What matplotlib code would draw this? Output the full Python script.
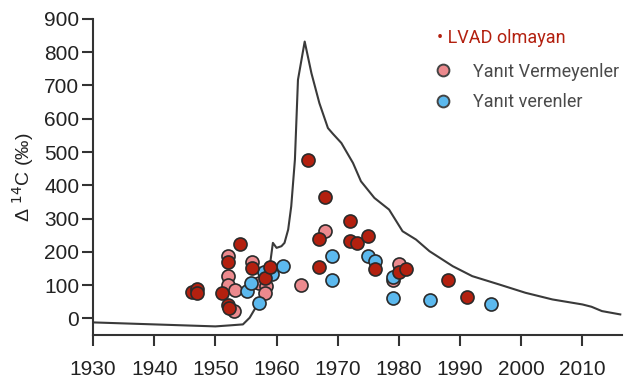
import matplotlib

matplotlib.use("Agg")
import matplotlib.pyplot as plt
from matplotlib.lines import Line2D

# atmospheric bomb-curve
curve_years = [1930, 1940, 1950, 1952.3, 1954.5, 1955.6, 1956.4, 1957.2, 1958.6,
               1959.4, 1960.0, 1960.8, 1961.3, 1961.9, 1962.4, 1963.0, 1963.5,
               1964.6, 1965.7, 1967.0, 1968.4, 1969.2, 1970.6, 1972.5, 1973.8,
               1976.0, 1978.4, 1980.6, 1982.8, 1985.0, 1988.8, 1992.0, 1996.4,
               2000.7, 2005.1, 2010.0, 2011.5, 2013.2, 2016.2]
curve_values = [-12, -18, -24, -21, -18, 2, 27, 57, 117,
                227, 212, 217, 227, 267, 337, 477, 717,
                832, 737, 647, 572, 555, 527, 467, 412,
                362, 327, 262, 237, 202, 157, 127, 102,
                77, 57, 42, 35, 22, 12]

# LVAD olmayan (dark red)
red_years = [1946.2, 1947.0, 1947.0, 1951.0, 1952.1, 1952.1, 1952.2, 1954.0,
             1956.0, 1958.1, 1959.0, 1965.1, 1968.0, 1967.0, 1967.0, 1972.0,
             1972.0, 1973.1, 1975.0, 1976.1, 1980.0, 1981.1, 1988.1, 1991.1]
red_values = [80, 88, 76, 75, 170, 40, 31, 225,
              152, 122, 155, 475, 365, 240, 155, 294,
              234, 227, 247, 147, 139, 147, 115, 65]

# Yanit Vermeyenler (pink)
pink_years = [1952.1, 1952.1, 1952.1, 1953.2, 1953.0, 1956.0, 1957.1, 1958.2,
              1958.1, 1964.0, 1968.0, 1980.1, 1979.1]
pink_values = [187, 127, 100, 84, 22, 170, 105, 97,
               77, 100, 262, 165, 115]

# Yanit verenler (blue)
blue_years = [1955.1, 1955.9, 1957.1, 1957.9, 1959.3, 1961.0, 1969.0, 1969.0,
              1975.0, 1976.1, 1979.1, 1979.1, 1985.1, 1995.1]
blue_values = [82, 105, 47, 140, 132, 157, 189, 114,
               187, 172, 125, 62, 54, 44]

RED = "#b3200f"
PINK = "#ec8a8e"
BLUE = "#5cb9ee"
EDGE = "#2a2a2a"
AXIS = "#333333"

plt.rcParams["font.family"] = ["Liberation Sans", "DejaVu Sans"]

fig = plt.figure(figsize=(6.42, 3.86), dpi=100)
ax = fig.add_axes([0.145, 0.132, 0.824, 0.819])

ax.plot(curve_years, curve_values, color="#3a3a3a", lw=1.5, zorder=2)

marker_kw = dict(s=88, edgecolors=EDGE, linewidths=1.2, zorder=3)
ax.scatter(pink_years, pink_values, color=PINK, **marker_kw)
ax.scatter(blue_years, blue_values, color=BLUE, **marker_kw)
ax.scatter(red_years, red_values, color=RED, **marker_kw)

ax.set_xlim(1930, 2016.5)
ax.set_ylim(-50, 900)
ax.set_xticks(range(1930, 2011, 10))
ax.set_yticks(range(0, 901, 100))

for side in ("top", "right"):
    ax.spines[side].set_visible(False)
for side in ("left", "bottom"):
    ax.spines[side].set_color(AXIS)
    ax.spines[side].set_linewidth(1.5)
ax.tick_params(axis="both", colors=AXIS, labelcolor="#222222", labelsize=15,
               length=8, width=1.5, direction="out")
ax.tick_params(axis="x", pad=10)
ax.tick_params(axis="y", pad=2)

ax.set_ylabel("Δ $^{14}$C (‰)", fontsize=14, color="#222222", labelpad=6)

legend_font = ["Roboto", "DejaVu Sans"]
ax.text(0.650, 0.94, "• LVAD olmayan", transform=ax.transAxes, color=RED,
        fontsize=13, family=legend_font, va="center")
handles = [
    Line2D([], [], marker="o", ls="none", markersize=8.5, markerfacecolor=PINK,
           markeredgecolor="#444444", markeredgewidth=1.4),
    Line2D([], [], marker="o", ls="none", markersize=8.5, markerfacecolor=BLUE,
           markeredgecolor="#444444", markeredgewidth=1.4),
]
leg = ax.legend(handles, ["Yanıt Vermeyenler", "Yanıt verenler"],
                loc="upper left", bbox_to_anchor=(0.645, 0.862), frameon=False,
                prop={"family": legend_font, "size": 13},
                handlelength=1.0, handletextpad=1.15, labelspacing=0.7,
                borderpad=0, borderaxespad=0)
for t in leg.get_texts():
    t.set_color("#4a4a4a")

fig.savefig("out.png", dpi=100)
